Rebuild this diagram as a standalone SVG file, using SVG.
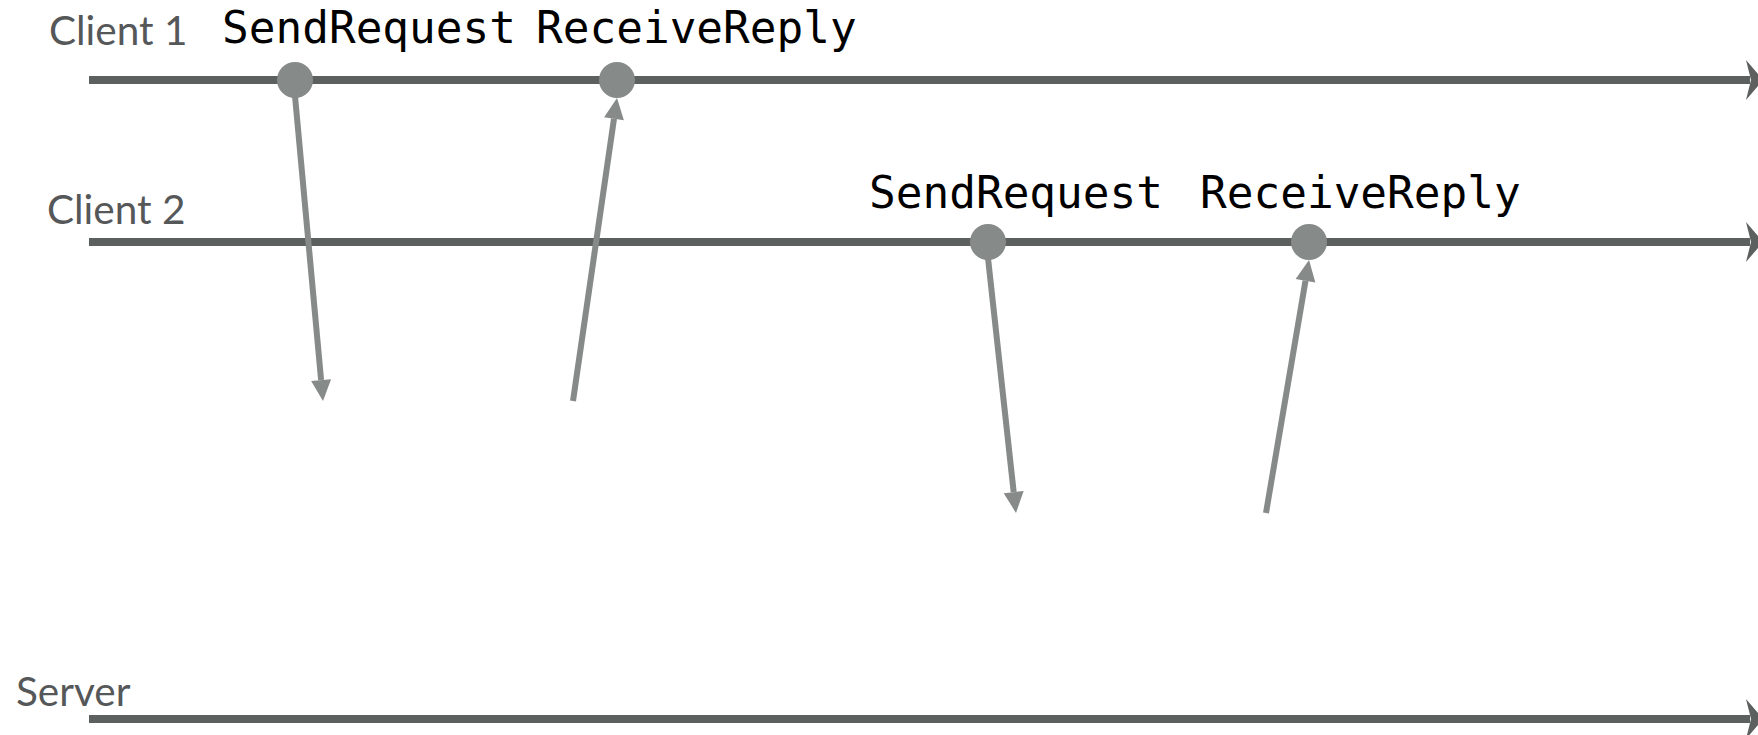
<svg xmlns="http://www.w3.org/2000/svg" width="1758" height="735" viewBox="0 0 1758 735">
<defs>
<style>
.lane{stroke:#5c605e;stroke-width:8;fill:none}
.chev{fill:#5c605e}
.lbl{font-family:Lato,"Liberation Sans",sans-serif;font-size:40.5px;fill:#555759}
.op{font-family:"DejaVu Sans Mono","Liberation Mono",monospace;font-size:44.4px;fill:#000}
.dot{fill:#868a88}
.msg{stroke:#868a88;stroke-width:6;fill:none;marker-end:url(#ah)}
</style>
<marker id="ah" markerUnits="userSpaceOnUse" markerWidth="21" markerHeight="20" viewBox="0 0 21 20" refX="0" refY="10" orient="auto" overflow="visible">
<path d="M0,0 L21,10 L0,20 Z" fill="#868a88"/>
</marker>
</defs>
<g id="client1">
<line class="lane" x1="89" y1="80" x2="1750" y2="80"/>
<path class="chev" d="M1746,60 L1763,80 L1746,100 L1751,80 Z"/>
<text class="lbl" x="49" y="45">Client 1</text>
</g>
<g id="client2">
<line class="lane" x1="89" y1="242" x2="1750" y2="242"/>
<path class="chev" d="M1746,222 L1763,242 L1746,262 L1751,242 Z"/>
<text class="lbl" x="47" y="224">Client 2</text>
</g>
<g id="server">
<line class="lane" x1="89" y1="719" x2="1750" y2="719"/>
<path class="chev" d="M1746,699 L1763,719 L1746,739 L1751,719 Z"/>
<text class="lbl" x="16" y="706">Server</text>
</g>
<g id="c1-send">
<circle class="dot" cx="295" cy="80" r="18"/>
<text class="op" x="222" y="43">SendRequest</text>
</g>
<g id="c1-recv">
<circle class="dot" cx="617" cy="80" r="18"/>
<text class="op" x="536" y="43">ReceiveReply</text>
</g>
<g id="c2-send">
<circle class="dot" cx="988" cy="242" r="18"/>
<text class="op" x="869" y="208">SendRequest</text>
</g>
<g id="c2-recv">
<circle class="dot" cx="1309" cy="242" r="18"/>
<text class="op" x="1200" y="208">ReceiveReply</text>
</g>
<g id="connectors">
<line class="msg" x1="295" y1="96" x2="321.1" y2="380.1"/>
<line class="msg" x1="573" y1="401" x2="614" y2="118.8"/>
<line class="msg" x1="988" y1="258" x2="1013.7" y2="492.1"/>
<line class="msg" x1="1266" y1="513" x2="1305.5" y2="280.7"/>
</g>
</svg>
